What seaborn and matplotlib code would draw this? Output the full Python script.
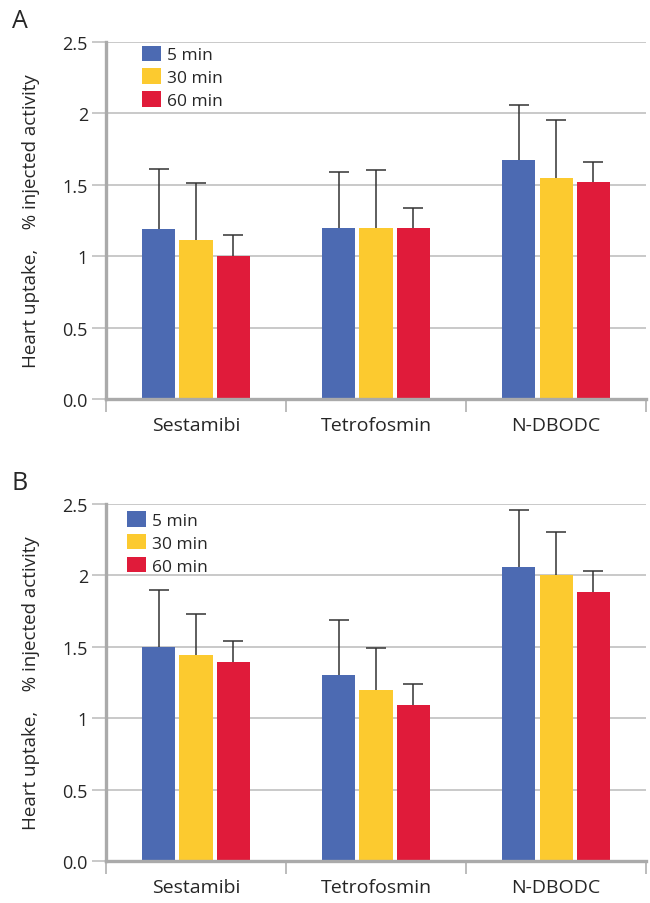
import pandas as pd
import matplotlib.pyplot as plt
import seaborn as sns

tracers = ["Sestamibi", "Tetrofosmin", "N-DBODC"]
times = ["5 min", "30 min", "60 min"]

# panel A: mean and SD per tracer, one list per time point
a_mean_5 = [1.19, 1.20, 1.67]
a_mean_30 = [1.11, 1.20, 1.55]
a_mean_60 = [1.00, 1.20, 1.52]
a_sd_5 = [0.42, 0.39, 0.39]
a_sd_30 = [0.40, 0.40, 0.40]
a_sd_60 = [0.15, 0.14, 0.14]

# panel B
b_mean_5 = [1.50, 1.30, 2.06]
b_mean_30 = [1.44, 1.20, 2.00]
b_mean_60 = [1.39, 1.09, 1.88]
b_sd_5 = [0.40, 0.39, 0.40]
b_sd_30 = [0.29, 0.29, 0.30]
b_sd_60 = [0.15, 0.15, 0.15]

colors = ["#4C6AB2", "#FCCA2F", "#E01B3A"]

sns.set_style("white")
plt.rcParams["font.family"] = ["Open Sans", "DejaVu Sans"]


def make_df(means):
    rows = []
    for t, vals in zip(times, means):
        for tr, v in zip(tracers, vals):
            rows.append({"tracer": tr, "time": t, "value": v})
    return pd.DataFrame(rows)


def draw_panel(ax, means, sds, letter, leg_xy):
    df = make_df(means)
    sns.barplot(data=df, x="tracer", y="value", hue="time", order=tracers,
                hue_order=times, palette=colors, width=0.62, gap=0.11,
                saturation=1, errorbar=None, linewidth=0, ax=ax)
    # upward-only error bars: stem from bar top plus a cap
    for cont, sd in zip(ax.containers, sds):
        xs = [b.get_x() + b.get_width() / 2 for b in cont]
        ys = [b.get_height() for b in cont]
        tops = [y + s for y, s in zip(ys, sd)]
        ax.vlines(xs, ys, tops, color="#333333", linewidth=1.1, zorder=3)
        ax.scatter(xs, tops, marker="_", s=15 ** 2, color="#333333",
                   linewidths=1.1, zorder=3)
    ax.set_ylim(0, 2.5)
    ax.set_xlim(-0.5, 2.5)
    ax.set_yticks([0, 0.5, 1, 1.5, 2, 2.5])
    ax.set_yticklabels(["0.0", "0.5", "1", "1.5", "2", "2.5"])
    ax.set_xticks([-0.5, 0.5, 1.5, 2.5], minor=True)
    ax.grid(axis="y", color="#BBBBBB", linewidth=1.1)
    ax.set_axisbelow(True)
    ax.tick_params(axis="y", which="major", length=10, width=1.1,
                   color="#BBBBBB", labelsize=13, pad=3, left=True)
    ax.tick_params(axis="x", which="major", length=0, labelsize=14, pad=12)
    ax.tick_params(axis="x", which="minor", length=9, width=1.1,
                   color="#AAAAAA", bottom=True)
    for side in ["top", "right"]:
        ax.spines[side].set_visible(False)
    for side in ["left", "bottom"]:
        ax.spines[side].set_color("#AAAAAA")
        ax.spines[side].set_linewidth(2.4)
    ax.set_xlabel("")
    ax.set_ylabel("Heart uptake,    % injected activity", fontsize=13.5,
                  labelpad=16)
    ax.legend(loc="upper left", bbox_to_anchor=leg_xy, frameon=False,
              fontsize=12.5, handlelength=1.1, handleheight=1.0,
              handletextpad=0.35, labelspacing=0.3, borderpad=0,
              borderaxespad=0)
    ax.text(-0.174, 1.06, letter, transform=ax.transAxes, fontsize=18,
            ha="left", va="center")


fig = plt.figure(figsize=(6.5, 9.04), dpi=100)
ax_a = fig.add_axes([0.163, 0.5575, 0.831, 0.395])
ax_b = fig.add_axes([0.163, 0.0465, 0.831, 0.395])

draw_panel(ax_a, [a_mean_5, a_mean_30, a_mean_60],
           [a_sd_5, a_sd_30, a_sd_60], "A", (0.067, 0.99))
draw_panel(ax_b, [b_mean_5, b_mean_30, b_mean_60],
           [b_sd_5, b_sd_30, b_sd_60], "B", (0.039, 0.98))

fig.savefig("out.png", dpi=100)
